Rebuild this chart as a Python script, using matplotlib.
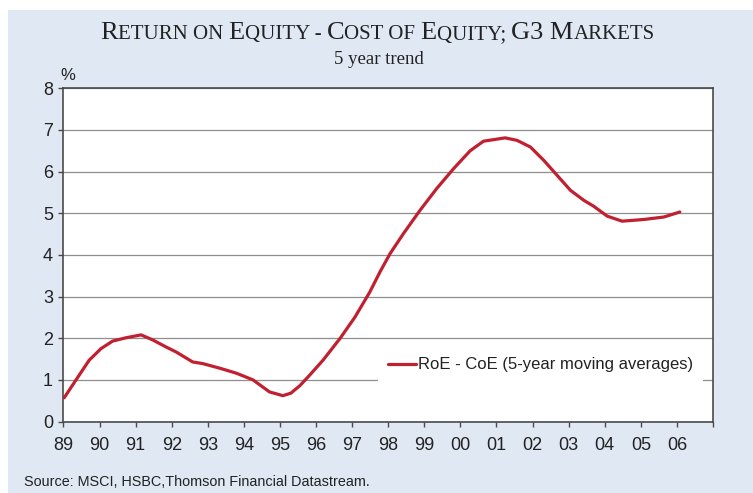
import numpy as np
import matplotlib
matplotlib.use('Agg')
import matplotlib.pyplot as plt
from matplotlib.patches import Rectangle
from matplotlib.offsetbox import TextArea, HPacker, AnchoredOffsetbox

# RoE - CoE, 5-year moving averages
years = [1989.02, 1989.34, 1989.71, 1990.04, 1990.36, 1990.73, 1991.15, 1991.47,
         1991.84, 1992.12, 1992.58, 1992.86, 1993.33, 1993.79, 1994.25, 1994.71,
         1995.08, 1995.30, 1995.55, 1995.83, 1996.19, 1996.66, 1997.08, 1997.49,
         1997.77, 1998.05, 1998.42, 1998.88, 1999.34, 1999.81, 2000.27, 2000.64,
         2001.24, 2001.57, 2001.94, 2002.31, 2002.68, 2003.05, 2003.42, 2003.69,
         2004.07, 2004.48, 2005.08, 2005.64, 2006.08]
roe_coe = [0.57, 0.99, 1.47, 1.75, 1.93, 2.01, 2.08, 1.96,
           1.79, 1.67, 1.43, 1.39, 1.28, 1.16, 1.00, 0.71,
           0.62, 0.68, 0.86, 1.12, 1.47, 1.99, 2.51, 3.11,
           3.59, 4.03, 4.51, 5.07, 5.59, 6.07, 6.50, 6.73,
           6.81, 6.75, 6.59, 6.27, 5.91, 5.55, 5.31, 5.17,
           4.93, 4.81, 4.85, 4.91, 5.03]

tick_years = list(range(1989, 2008))
tick_labels = ['89', '90', '91', '92', '93', '94', '95', '96', '97', '98',
               '99', '00', '01', '02', '03', '04', '05', '06', '']
series_label = 'RoE - CoE (5-year moving averages)'

bg = '#e0e8f3'
frame = '#4a4a4a'
red = '#c0202f'
sans = ['Liberation Sans', 'DejaVu Sans']
serif = ['Liberation Serif', 'DejaVu Serif']

W, H = 753, 493
fig = plt.figure(figsize=(W / 100, H / 100), dpi=100)
fig.patch.set_facecolor('white')

# light blue panel behind everything
fig.patches.append(Rectangle((8 / W, 0), 1, 1 - 10 / H, transform=fig.transFigure,
                             facecolor=bg, edgecolor='none', zorder=-10))

ax = fig.add_axes([63.5 / W, 1 - 421.5 / H, (713 - 63.5) / W, (421.5 - 88.3) / H])
ax.set_facecolor('white')

ax.plot(years, roe_coe, color=red, lw=2.3, label=series_label,
        solid_capstyle='round', solid_joinstyle='round', zorder=3)

ax.set_xlim(1989, 2007)
ax.set_ylim(0, 8)
ax.set_xticks(tick_years)
ax.set_xticklabels(tick_labels)
ax.set_yticks(range(0, 9))
ax.grid(axis='y', color='#8e8e8e', lw=0.9)
ax.set_axisbelow(True)

for s in ax.spines.values():
    s.set_color(frame)
    s.set_linewidth(1.2)

ax.tick_params(axis='both', direction='out', length=3.5, width=1, color=frame,
               labelsize=13, labelcolor='#222222')
ax.tick_params(axis='x', pad=8)
ax.tick_params(axis='y', pad=4)
for t in ax.get_xticklabels() + ax.get_yticklabels():
    t.set_family(sans)

leg = ax.legend(loc='center left', bbox_to_anchor=(0.484, 0.17), borderaxespad=0,
                frameon=True, fancybox=False, framealpha=1, facecolor='white',
                edgecolor='none', handlelength=1.7, handletextpad=0.12,
                borderpad=0.6, prop={'family': sans, 'size': 12})
for t in leg.get_texts():
    t.set_color('#222222')

# small-caps style title
big, small = 19, 15
parts = [('R', big), ('ETURN ON ', small), ('E', big), ('QUITY - ', small),
         ('C', big), ('OST OF ', small), ('E', big), ('QUITY; ', small),
         ('G3 M', big), ('ARKETS', small)]
boxes = [TextArea(txt, textprops=dict(size=sz, family=serif, color='#222222'))
         for txt, sz in parts]
pack = HPacker(children=boxes, align='baseline', pad=0, sep=0)
title = AnchoredOffsetbox(loc='center', child=pack, frameon=False, pad=0, borderpad=0,
                          bbox_to_anchor=(377.5 / W, 1 - 33 / H),
                          bbox_transform=fig.transFigure)
fig.add_artist(title)

fig.text(379 / W, 1 - 60 / H, '5 year trend', ha='center', va='center',
         family=serif, size=13.5, color='#222222')
fig.text(68 / W, 1 - 76 / H, '%', ha='center', va='center',
         family=sans, size=12, color='#222222')
fig.text(24 / W, 1 - 482 / H, 'Source: MSCI, HSBC,Thomson Financial Datastream.',
         ha='left', va='center', family=sans, size=10.4, color='#222222')

fig.savefig('out.png', dpi=100, facecolor=fig.get_facecolor())
